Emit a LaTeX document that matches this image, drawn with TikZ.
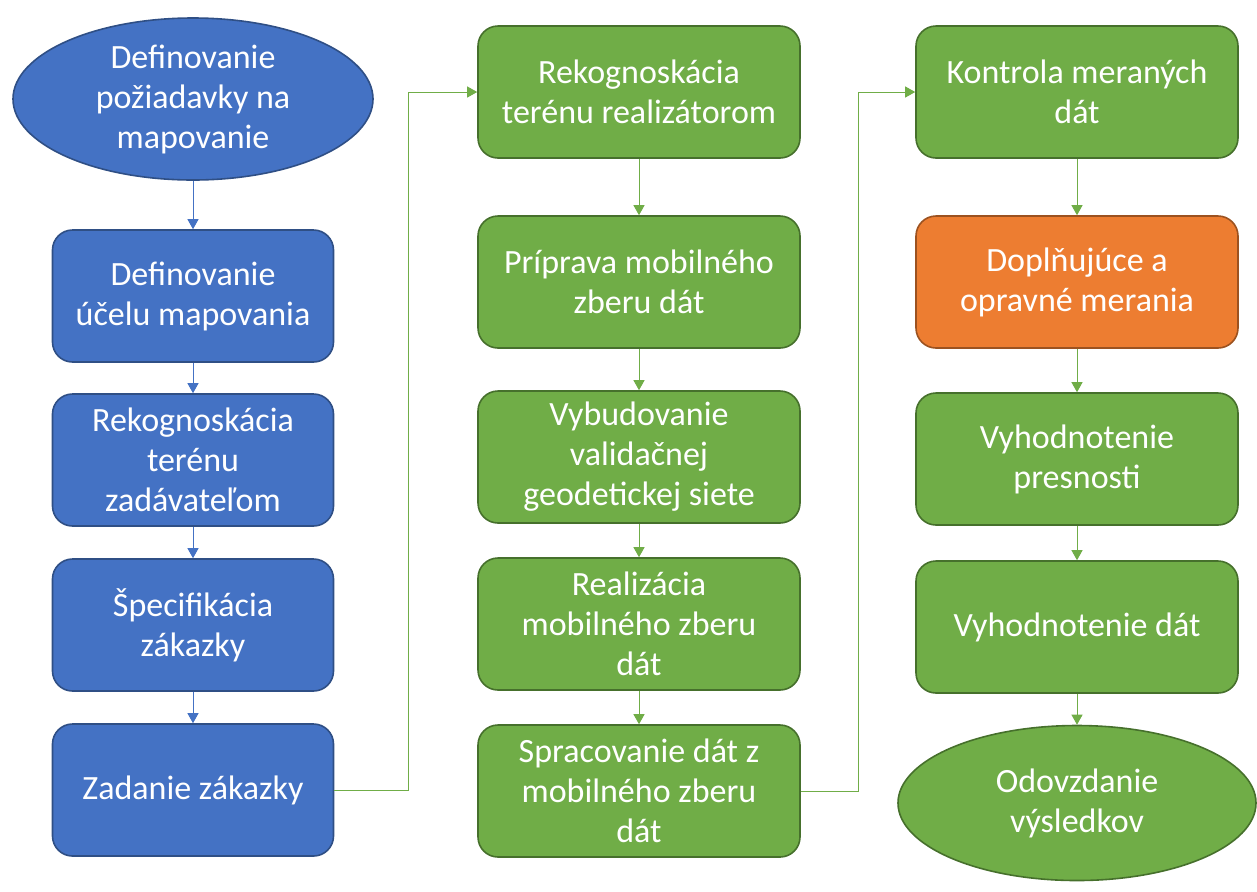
\documentclass[tikz,border=0pt]{standalone}
\usepackage{fontspec}
\setmainfont{Carlito}
\usetikzlibrary{arrows.meta,shapes.geometric}
\definecolor{blueF}{HTML}{4472C4}
\definecolor{blueD}{HTML}{2F4F85}
\definecolor{greenF}{HTML}{70AD47}
\definecolor{greenD}{HTML}{46702C}
\definecolor{orangeF}{HTML}{ED7D31}
\definecolor{orangeD}{HTML}{9C5220}
\tikzset{>={Triangle[length=5pt,width=5.5pt]}}
\tikzset{
  box/.style={draw,rounded corners=10pt,minimum width=140.5pt,minimum height=66pt,
    align=center,text=white,font=\fontsize{17}{20}\selectfont,line width=0.8pt,inner sep=2pt},
  bluebox/.style={box,fill=blueF,draw=blueD},
  greenbox/.style={box,fill=greenF,draw=greenD,minimum width=161pt},
  orangebox/.style={box,fill=orangeF,draw=orangeD,minimum width=161pt},
  oval/.style={ellipse,draw,align=center,text=white,font=\fontsize{17}{20}\selectfont,
    line width=0.8pt,inner sep=0pt},
  bline/.style={->,blueF,line width=0.5pt},
  gline/.style={->,greenF,line width=0.5pt}
}

\begin{document}
\begin{tikzpicture}[x=0.5pt,y=-0.5pt]
  \useasboundingbox (0,0) rectangle (1257,891);
  % column 1
  \node[oval,fill=blueF,draw=blueD,minimum width=180pt,minimum height=81pt] (start) at (193,99) {Definovanie\\požiadavky na\\mapovanie};
  \node[bluebox] (ucel) at (193,296) {Definovanie\\účelu mapovania};
  \node[bluebox] (rekz) at (193,460) {Rekognoskácia\\terénu\\zadávateľom};
  \node[bluebox] (spec) at (193,625) {Špecifikácia\\zákazky};
  \node[bluebox] (zad) at (193,790) {Zadanie zákazky};
  % column 2
  \node[greenbox] (rekr) at (639,92) {Rekognoskácia\\terénu realizátorom};
  \node[greenbox] (prip) at (639,282) {Príprava mobilného\\zberu dát};
  \node[greenbox] (vyb) at (639,457) {Vybudovanie\\validačnej\\geodetickej siete};
  \node[greenbox] (real) at (639,624) {Realizácia\\mobilného zberu\\dát};
  \node[greenbox] (spr) at (639,791) {Spracovanie dát z\\mobilného zberu\\dát};
  % column 3
  \node[greenbox] (kontr) at (1077,92) {Kontrola meraných\\dát};
  \node[orangebox] (dopl) at (1077,282) {Doplňujúce a\\opravné merania};
  \node[greenbox] (pres) at (1077,459) {Vyhodnotenie\\presnosti};
  \node[greenbox] (vdat) at (1077,627) {Vyhodnotenie dát};
  \node[oval,fill=greenF,draw=greenD,minimum width=179pt,minimum height=77.5pt] (odov) at (1077,803) {Odovzdanie\\výsledkov};
  % arrows
  \draw[bline] (start) -- (ucel);
  \draw[bline] (ucel) -- (rekz);
  \draw[bline] (rekz) -- (spec);
  \draw[bline] (spec) -- (zad);
  \draw[gline] (zad.east) -- ++(74,0) |- (rekr.west);
  \draw[gline] (rekr) -- (prip);
  \draw[gline] (prip) -- (vyb);
  \draw[gline] (vyb) -- (real);
  \draw[gline] (real) -- (spr);
  \draw[gline] (spr.east) -- ++(58,0) |- (kontr.west);
  \draw[gline] (kontr) -- (dopl);
  \draw[gline] (dopl) -- (pres);
  \draw[gline] (pres) -- (vdat);
  \draw[gline] (vdat) -- (odov);
\end{tikzpicture}
\end{document}
